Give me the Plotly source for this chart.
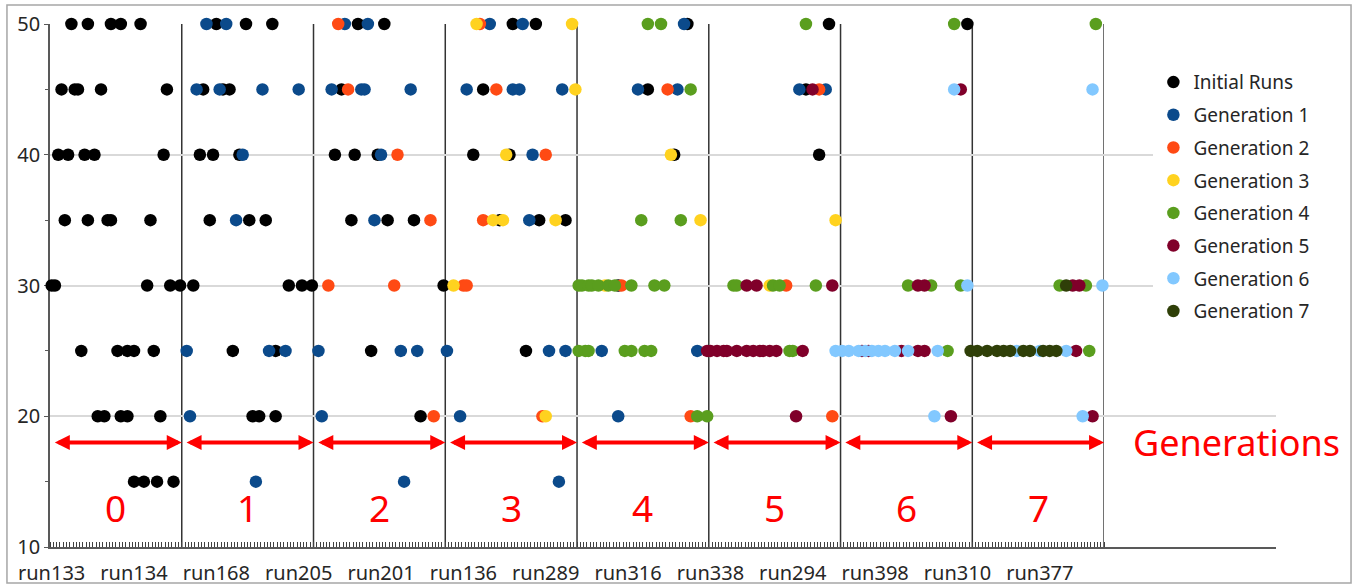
import plotly.graph_objects as go

# Category axis: 8 generations x 40 run slots each
RUNS_PER_GEN = 40
N_GENS = 8
N_RUNS = RUNS_PER_GEN * N_GENS

tick_positions = [0, 25, 50, 75, 100, 125, 150, 175, 200, 225, 250, 275, 300]
tick_labels = ["run133", "run134", "run168", "run205", "run201", "run136", "run289",
               "run316", "run338", "run294", "run398", "run310", "run377"]

series_names = ["Initial Runs", "Generation 1", "Generation 2", "Generation 3",
                "Generation 4", "Generation 5", "Generation 6", "Generation 7"]
series_colors = ["#000000", "#0B4A8B", "#FF4A14", "#FFD21F",
                 "#5A9E1E", "#80002A", "#82C8FF", "#2F3F08"]

# score level -> run slots holding that score
initial_runs = {
    50: [6, 11, 18, 21, 27, 50, 59, 67, 93, 101, 140, 147, 193, 236, 278],
    45: [3, 7, 8, 15, 35, 46, 52, 54, 88, 131, 181, 229],
    40: [2, 5, 10, 13, 34, 45, 49, 57, 86, 92, 99, 128, 139, 189, 233],
    35: [4, 11, 17, 18, 30, 48, 60, 65, 91, 102, 110, 136, 148, 156],
    30: [0, 1, 29, 36, 39, 43, 72, 76, 79, 119, 172],
    25: [9, 20, 23, 25, 31, 55, 68, 97, 144],
    20: [14, 16, 21, 23, 33, 61, 63, 68, 112],
    15: [25, 28, 32, 37],
}
gen1_runs = {
    50: [47, 53, 89, 96, 133, 143, 192],
    45: [44, 51, 64, 75, 85, 94, 95, 109, 126, 140, 142, 155, 178, 190, 227, 235],
    40: [58, 100, 146],
    35: [56, 98, 145],
    25: [41, 66, 71, 81, 106, 111, 120, 151, 156, 167, 196],
    20: [42, 82, 124, 172],
    15: [62, 107, 154],
}
gen2_runs = {
    50: [87, 130],
    45: [90, 135, 187, 233],
    40: [105, 150],
    35: [115, 131],
    30: [84, 104, 125, 126, 173, 223],
    20: [116, 149, 194, 237],
}
gen3_runs = {
    50: [129, 158],
    45: [159],
    40: [138, 188],
    35: [134, 137, 153, 197, 238],
    30: [122, 168, 218],
    20: [150],
}
gen4_runs = {
    50: [181, 185, 229, 274, 317],
    45: [194],
    35: [179, 191],
    30: [160, 161, 163, 164, 166, 169, 171, 176, 183, 186, 207, 208, 219, 221, 232,
         260, 267, 276, 306, 314],
    25: [160, 162, 163, 174, 176, 180, 182, 224, 225, 272, 315],
    20: [196, 199],
}
gen5_runs = {
    45: [231, 276],
    30: [211, 214, 237, 263, 265, 310, 312],
    25: [199, 200, 202, 204, 205, 208, 211, 213, 215, 216, 218, 220, 228,
         246, 248, 258, 263, 265, 311],
    20: [226, 273, 316],
}
gen6_runs = {
    45: [274, 316],
    30: [278, 319],
    25: [238, 240, 242, 245, 247, 249, 251, 253, 256, 260, 269, 293, 300, 308],
    20: [268, 313],
}
gen7_runs = {
    30: [308],
    25: [279, 281, 284, 287, 289, 291, 295, 297, 301, 303, 305],
}

series_points = [initial_runs, gen1_runs, gen2_runs, gen3_runs,
                 gen4_runs, gen5_runs, gen6_runs, gen7_runs]

generation_labels = ["0", "1", "2", "3", "4", "5", "6", "7"]

Y_MIN, Y_MAX = 10, 50
ARROW_Y = 18.0
LABEL_Y = 13.0
X_EXTENT = 371.7  # plot area runs past the last generation to leave room for the legend

RED = "#FF0000"
AXIS_COLOR = "#595959"
FONT = "Noto Sans"

fig = go.Figure()

# wide backdrop subplot: carries the full-length x axis line and gridlines
fig.add_trace(go.Scatter(x=[0], y=[Y_MIN], mode="markers", marker=dict(opacity=0),
                         showlegend=False, hoverinfo="skip", xaxis="x", yaxis="y"))

for i, (name, color, pts) in enumerate(zip(series_names, series_colors, series_points)):
    xs, ys = [], []
    for score, runs in pts.items():
        for r in runs:
            xs.append(r)
            ys.append(score)
    fig.add_trace(go.Scatter(
        x=xs, y=ys, mode="markers", name=name, legendgroup=f"g{i}",
        marker=dict(color=color, size=12.5, line=dict(width=0)),
        cliponaxis=False, xaxis="x2", yaxis="y",
    ))

shapes = []
# generation boundaries
for g in range(1, N_GENS + 1):
    xb = g * RUNS_PER_GEN - 0.5
    shapes.append(dict(type="line", xref="x2", yref="y", x0=xb, x1=xb, y0=Y_MIN, y1=Y_MAX,
                       line=dict(color="#333333", width=1.5), layer="below"))
# chart frame
shapes.append(dict(type="rect", xref="paper", yref="paper",
                   x0=-0.0351, x1=1.0612, y0=-0.0688, y1=1.0363,
                   line=dict(color="#A6A6A6", width=1.5), layer="below"))

annotations = []
for g, lab in enumerate(generation_labels):
    left = g * RUNS_PER_GEN + 0.5
    right = (g + 1) * RUNS_PER_GEN - 0.5
    annotations.append(dict(
        x=right, y=ARROW_Y, ax=left, ay=ARROW_Y, xref="x2", yref="y", axref="x2", ayref="y",
        text="", showarrow=True, arrowside="end+start", arrowhead=2, arrowsize=0.75,
        arrowwidth=4, arrowcolor=RED, standoff=0, startstandoff=0,
    ))
    annotations.append(dict(
        x=g * RUNS_PER_GEN + RUNS_PER_GEN / 2 - 0.5, y=LABEL_Y, xref="x2", yref="y",
        text=lab, showarrow=False, font=dict(family=FONT, size=37, color=RED),
    ))
annotations.append(dict(
    x=0.968, y=ARROW_Y, xref="paper", yref="y", xanchor="center", yanchor="middle",
    text="Generations", showarrow=False,
    font=dict(family=FONT, size=36, color=RED),
))

fig.update_layout(
    width=1360, height=586,
    margin=dict(l=50, r=84, t=24, b=39, autoexpand=False),
    plot_bgcolor="rgba(0,0,0,0)", paper_bgcolor="white",
    font=dict(family=FONT, size=18, color="#404040"),
    shapes=shapes, annotations=annotations,
    legend=dict(x=0.9, y=0.925, xanchor="left", yanchor="top", bgcolor="white",
                font=dict(family=FONT, size=19, color="#262626"),
                traceorder="grouped", tracegroupgap=5, itemwidth=30),
    xaxis=dict(domain=[0, 1], range=[-0.5, X_EXTENT], showline=True, linecolor=AXIS_COLOR,
               linewidth=1.5, showgrid=False, zeroline=False, showticklabels=False, ticks="",
               automargin=False),
    xaxis2=dict(domain=[0, (N_RUNS) / (X_EXTENT + 0.5)], range=[-0.5, N_RUNS - 0.5],
                anchor="y", showline=False, showgrid=False, zeroline=False,
                tickmode="array", tickvals=tick_positions, ticktext=tick_labels, ticks="",
                tickfont=dict(family=FONT, size=20, color="#262626"),
                ticklabelstandoff=12, automargin=False,
                minor=dict(tickmode="linear", tick0=-0.5, dtick=1, ticks="inside",
                           ticklen=5, tickwidth=1, tickcolor="#404040", showgrid=False)),
    yaxis=dict(range=[Y_MIN, Y_MAX], domain=[0, 1], tickmode="linear", tick0=10, dtick=10,
               showgrid=True, gridcolor="#D9D9D9", gridwidth=1.5, zeroline=False,
               showline=True, linecolor=AXIS_COLOR, linewidth=1.5,
               ticks="outside", ticklen=4, tickcolor=AXIS_COLOR, automargin=False,
               tickfont=dict(family=FONT, size=20, color="#262626"),
               minor=dict(dtick=5, ticks="outside", ticklen=3, tickcolor=AXIS_COLOR,
                          showgrid=False)),
)

fig.write_html("out.html")
